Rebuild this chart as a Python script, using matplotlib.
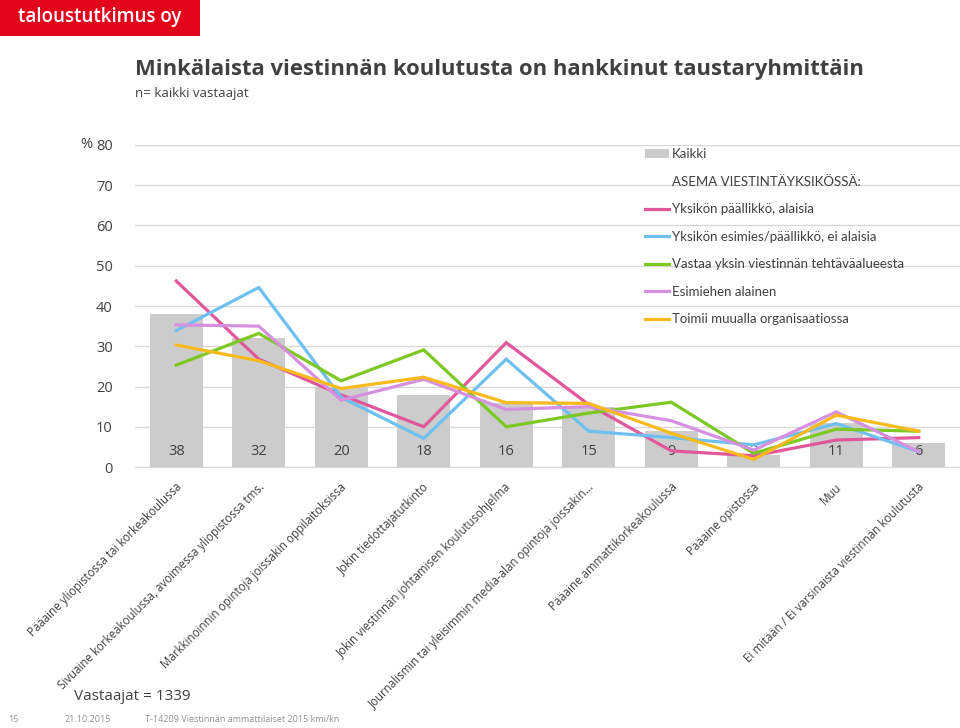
import matplotlib
matplotlib.use("Agg")
import matplotlib.pyplot as plt
from matplotlib.lines import Line2D
from matplotlib.patches import Patch, Rectangle
import numpy as np

plt.rcParams['font.family'] = ['Open Sans', 'DejaVu Sans']

categories = [
    "Pääaine yliopistossa tai korkeakoulussa",
    "Sivuaine korkeakoulussa, avoimessa yliopistossa tms.",
    "Markkinoinnin opintoja joissakin oppilaitoksissa",
    "Jokin tiedottajatutkinto",
    "Jokin viestinnän johtamisen koulutusohjelma",
    "Journalismin tai yleisimmin media-alan opintoja joissakin…",
    "Pääaine ammattikorkeakoulussa",
    "Pääaine opistossa",
    "Muu",
    "Ei mitään / Ei varsinaista viestinnän koulutusta",
]
kaikki = [38, 32, 20, 18, 16, 15, 9, 3, 11, 6]
paallikko_alaisia = [46.2, 26.8, 17.9, 10.0, 30.9, 15.5, 4.0, 2.8, 6.7, 7.3]
esimies_ei_alaisia = [33.9, 44.6, 17.3, 7.1, 26.8, 8.9, 7.3, 5.5, 10.8, 3.8]
vastaa_yksin = [25.3, 33.2, 21.4, 29.1, 10.0, 13.4, 16.1, 3.4, 9.4, 8.9]
esimiehen_alainen = [35.3, 35.0, 16.6, 21.8, 14.3, 15.0, 11.5, 4.2, 13.7, 3.8]
toimii_muualla = [30.3, 26.4, 19.5, 22.3, 16.0, 15.8, 8.4, 1.9, 12.9, 8.9]

series = [
    ("Yksikön päällikkö, alaisia", paallikko_alaisia, "#E0589A"),
    ("Yksikön esimies/päällikkö, ei alaisia", esimies_ei_alaisia, "#6EC0F0"),
    ("Vastaa yksin viestinnän tehtäväalueesta", vastaa_yksin, "#7DC822"),
    ("Esimiehen alainen", esimiehen_alainen, "#D690E0"),
    ("Toimii muualla organisaatiossa", toimii_muualla, "#F8BA1C"),
]

W, H = 960, 728
fig = plt.figure(figsize=(W / 100, H / 100), dpi=100)

def fx(px):
    return px / W

def fy(py):
    return 1 - py / H

ax = fig.add_axes([fx(135), fy(467), fx(960) - fx(135), fy(145) - fy(467)])
x = np.arange(len(categories))
ax.bar(x, kaikki, width=0.64, color="#CCCCCC", zorder=2)
for xi, v in zip(x, kaikki):
    ax.text(xi, 3.8, str(v), ha="center", va="center", fontsize=10.5,
            color="#404040", zorder=2.5)
for name, vals, col in series:
    ax.plot(x, vals, color=col, lw=2.3, zorder=3, solid_joinstyle="miter")

ax.set_xlim(-0.5, len(categories) - 0.5)
ax.set_ylim(0, 80)
ax.set_yticks(range(0, 81, 10))
ax.yaxis.grid(True, color="#D9D9D9", lw=1)
ax.set_axisbelow(True)
for s in ["top", "right", "left"]:
    ax.spines[s].set_visible(False)
ax.spines["bottom"].set_color("#D9D9D9")
ax.tick_params(axis="y", length=0, pad=16, labelsize=10.5, labelcolor="#404040")
ax.tick_params(axis="x", length=0)
ax.set_xticks(x)
ax.set_xticklabels([])
for xi, lab in zip(x, categories):
    ax.annotate(lab, xy=(xi, 0), xycoords="data", xytext=(2.5, -13),
                textcoords="offset points", rotation=45, rotation_mode="anchor",
                ha="right", va="center", fontsize=8.3, color="#404040")

fig.text(fx(80), fy(145), "%", ha="left", va="center", fontsize=10.5, color="#404040")

# legend
handles = [Patch(facecolor="#CCCCCC", edgecolor="none"),
           Line2D([], [], color="none")]
labels = ["Kaikki", "ASEMA VIESTINTÄYKSIKÖSSÄ:"]
for name, vals, col in series:
    handles.append(Line2D([], [], color=col, lw=2.3))
    labels.append(name)
leg = fig.legend(handles, labels, loc="upper left",
                 bbox_to_anchor=(fx(645), fy(148)), frameon=False,
                 fontsize=9.5, labelcolor="#404040", handlelength=1.8,
                 handletextpad=0.25, labelspacing=1.18, handleheight=0.6,
                 borderaxespad=0, borderpad=0)
for t in leg.get_texts():
    t.set_family(["Lato", "DejaVu Sans"])

# logo
fig.patches.append(Rectangle((0, fy(36)), fx(200), fy(0) - fy(36),
                             transform=fig.transFigure, facecolor="#E3051C",
                             edgecolor="none"))
fig.text(fx(18), fy(17), "taloustutkimus oy", ha="left", va="center",
         fontsize=13.5, color="white", fontweight="semibold")

fig.text(fx(135), fy(70), "Minkälaista viestinnän koulutusta on hankkinut taustaryhmittäin",
         ha="left", va="center", fontsize=15.8, fontweight="bold", color="#404040")
fig.text(fx(135), fy(93), "n= kaikki vastaajat", ha="left", va="center",
         fontsize=9.5, color="#404040")
fig.text(fx(74), fy(696), "Vastaajat = 1339", ha="left", va="center",
         fontsize=11, color="#404040")
fig.text(fx(8), fy(720), "15", ha="left", va="center", fontsize=6.5, color="#909090")
fig.text(fx(65), fy(720), "21.10.2015", ha="left", va="center", fontsize=6.5, color="#909090")
fig.text(fx(145), fy(720), "T-14209 Viestinnän ammattilaiset 2015 kmi/kn", ha="left",
         va="center", fontsize=6.5, color="#909090")

fig.savefig("out.png", dpi=100)
